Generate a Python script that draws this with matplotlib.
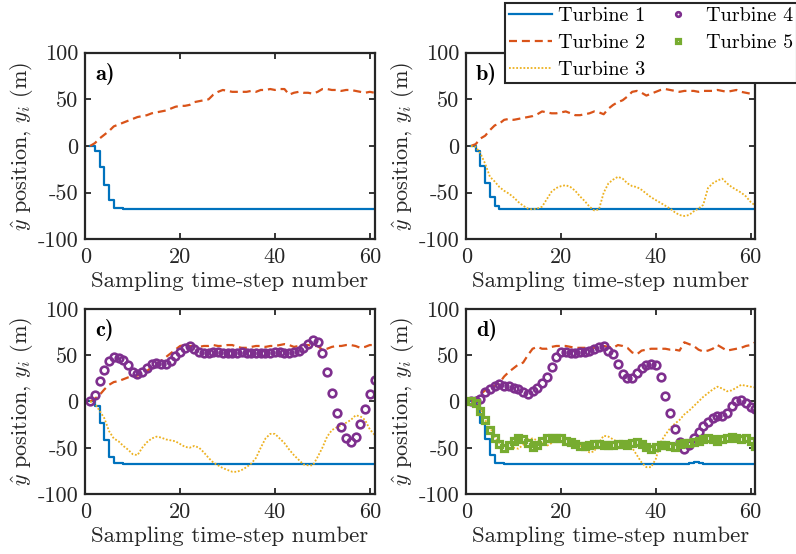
import numpy as np
import matplotlib.pyplot as plt

plt.rcParams['font.family'] = 'serif'
plt.rcParams['font.serif'] = ['cmr10']
plt.rcParams['mathtext.fontset'] = 'cm'
plt.rcParams['axes.unicode_minus'] = False
plt.rcParams['axes.formatter.use_mathtext'] = True

# sampling steps
steps = np.arange(1, 62)

x_ticks = [0, 20, 40, 60]
y_ticks = [-100, -50, 0, 50, 100]
x_tick_labels = ['0', '20', '40', '60']
y_tick_labels = ['-100', '-50', '0', '50', '100']

turbine_names = ['Turbine 1', 'Turbine 2', 'Turbine 3', 'Turbine 4', 'Turbine 5']
panel_names = ['a)', 'b)', 'c)', 'd)']

# case a) two turbines
a_t1 = [0, -5, -22, -42, -58, -66, -66, -68, -68, -68] + [-67.5] * 51
a_t2 = [0, 3, 8, 12, 16, 21, 23, 25, 27, 29, 31, 32, 33, 35, 36, 37, 38, 40, 42, 43,
        43, 44, 47, 48, 49, 50, 55, 58, 60, 59, 58, 58, 58, 58, 59, 58, 60, 60, 61, 60,
        61, 61, 55, 57, 58, 57, 57, 56, 58, 61, 61, 60, 60, 59, 60, 60, 59, 58, 57, 58, 57]

# case b) three turbines
b_t1 = [0, -5, -21, -40, -55, -64, -67, -67.5] + [-67.5] * 53
b_t2 = [0, 2, 8, 11, 17, 22, 24, 28, 29, 28, 29, 30, 31, 32, 34, 37, 36, 35, 35, 36,
        37, 35, 33, 33, 34, 35, 37, 36, 34, 40, 44, 47, 49, 53, 58, 59, 57, 54, 56, 58,
        60, 61, 60, 59, 58, 59, 59, 59, 58, 59, 59, 59, 60, 59, 58, 59, 60, 58, 57, 56, 54]
b_t3 = [0, -1, -8, -19, -33, -38, -44, -48, -51, -55, -60, -64, -67, -68, -67, -65, -57, -49, -45, -43,
        -42, -44, -48, -54, -59, -65, -69, -68, -50, -40, -36, -33, -35, -40, -43, -44, -47, -51, -55, -58,
        -61, -64, -67, -71, -74, -75, -74, -70, -67, -63, -45, -40, -37, -35, -40, -44, -47, -50, -54, -60, -64]

# case c) four turbines
c_t1 = [0, -5, -23, -42, -60, -66, -67, -68] + [-68] * 53
c_t2 = [0, 3, 7, 13, 18, 21, 22, 24, 26, 27, 28, 30, 33, 37, 41, 44, 48, 52, 56, 60,
        61, 60, 60, 59, 60, 60, 61, 60, 60, 61, 61, 59, 58, 58, 59, 60, 60, 59, 60, 60,
        61, 62, 61, 59, 60, 61, 61, 60, 60, 56, 57, 59, 60, 60, 61, 61, 60, 58, 59, 61, 61]
c_t3 = [0, -2, -10, -18, -32, -40, -43, -48, -52, -57, -58, -50, -44, -40, -38, -39, -41, -42, -43, -46,
        -49, -50, -48, -50, -55, -61, -66, -69, -72, -74, -76, -76, -74, -71, -67, -61, -50, -40, -35, -35,
        -40, -45, -52, -58, -63, -68, -69, -69, -60, -50, -38, -31, -28, -26, -23, -20, -15, -16, -20, -30, -36]
c_t4 = [0, 6.5, 22, 34, 44, 48, 47, 45, 39, 32, 30, 32, 36, 40, 42, 41, 41, 44, 49, 53,
        58, 60, 57, 54, 52, 52, 53, 53, 52, 52, 52, 52, 53, 52, 52, 52, 52, 52, 52, 53,
        53, 52, 52, 53, 55, 58, 62, 66, 64, 52, 32, 9, -12, -28, -40, -44, -38, -24, -8, 8, 23.5]

# case d) five turbines
d_t1 = ([0, -5, -23, -41, -58, -67, -67, -68] + [-68] * 37
        + [-68, -66, -65, -67] + [-68] * 12)
d_t2 = [0, 3, 8, 12, 15, 17, 20, 27, 32, 36, 40, 42, 50, 57, 59, 57, 57, 59, 60, 60,
        60, 59, 58, 58, 58, 58, 58, 59, 60, 59, 58, 61, 60, 58, 53, 51, 55, 56, 57, 57,
        57, 57, 56, 56, 55, 64, 62, 60, 56, 54, 55, 57, 61, 58, 55, 56, 57, 58, 60, 61, 64]
d_t3 = [0, -1, -8, -20, -28, -38, -45, -45, -44, -50, -51, -47, -41, -40, -42, -45, -48, -45, -41, -40,
        -40, -43, -45, -48, -52, -55, -54, -44, -37, -38, -41, -44, -45, -46, -50, -58, -66, -71, -71, -62,
        -44, -36, -29, -24, -20, -14, -10, -5, 0, 5, 9, 13, 16, 14, 11, 12, 15, 18, 17, 16, 15]
d_t4 = [0, 0.7, 3, 10, 14, 17, 19, 17, 17, 15, 13, 10, 8, 11, 15, 20, 26, 37, 48, 53,
        53, 52, 52, 53, 53, 55, 57, 59, 60, 55, 51, 41, 30, 25, 25, 31, 36, 39, 41, 39,
        26, 6, -12, -30, -44, -51, -47, -40, -33, -26, -22, -18, -16, -15.5, -12.6, -5, 0.7, 2, -2, -6.5, -8]
d_t5 = [0, -2, -10, -20, -31, -40, -46, -50, -47, -43, -40, -41, -45, -49, -47, -43, -40, -40, -40, -40,
        -43, -44, -46, -48, -48, -47, -46, -46, -47, -47, -47, -46, -46, -47, -45, -44, -46, -49, -51, -49,
        -47, -47, -48, -49, -46, -45, -45, -44, -43, -41, -40, -41, -43, -41, -39, -38, -40, -41, -40, -43, -48]

panels = [
    [a_t1, a_t2],
    [b_t1, b_t2, b_t3],
    [c_t1, c_t2, c_t3, c_t4],
    [d_t1, d_t2, d_t3, d_t4, d_t5],
]

colors = ['#0072BD', '#D95319', '#EDB120', '#7E2F8E', '#77AC30']
dark = '#262626'

fig = plt.figure(figsize=(7.96, 5.54), dpi=100)
fig.patch.set_facecolor('white')

boxes = [
    [0.1072, 0.5680, 0.3633, 0.3370],
    [0.5857, 0.5680, 0.3633, 0.3370],
    [0.1072, 0.1083, 0.3633, 0.3340],
    [0.5857, 0.1083, 0.3633, 0.3340],
]

handles = []
for k, (box, series) in enumerate(zip(boxes, panels)):
    ax = fig.add_axes(box)
    hs = []
    for i, y in enumerate(series):
        if i == 0:
            h, = ax.step(steps, y, where='post', color=colors[0], lw=1.6)
        elif i == 1:
            h, = ax.plot(steps, y, color=colors[1], lw=1.6, dashes=(3.6, 2.2))
        elif i == 2:
            h, = ax.plot(steps, y, color=colors[2], lw=1.3, dashes=(1, 1))
        elif i == 3:
            h, = ax.plot(steps, y, 'o', color=colors[3], mfc='none', ms=5.5, mew=1.9)
        else:
            h, = ax.plot(steps, y, 's', color=colors[4], mfc='none', ms=4.4, mew=2.3)
        hs.append(h)
    if len(hs) == 5:
        handles = hs

    ax.set_xlim(0, 61)
    ax.set_ylim(-100, 100)
    ax.set_xticks(x_ticks)
    ax.set_xticklabels(x_tick_labels)
    ax.set_yticks(y_ticks)
    ax.set_yticklabels(y_tick_labels)
    ax.tick_params(direction='in', length=4, width=1.3, top=True, right=True,
                   labelsize=16, colors=dark, pad=5)
    ax.tick_params(axis='x', pad=6)
    for sp in ax.spines.values():
        sp.set_linewidth(1.6)
        sp.set_color(dark)
    ax.set_xlabel('Sampling time-step number', fontsize=16.5, color=dark, labelpad=3)
    ax.set_ylabel(r'$\hat{y}$ position, $y_i$ (m)', fontsize=16, color=dark, labelpad=2)
    ax.text(0.034, 0.885, panel_names[k], transform=ax.transAxes, fontsize=16,
            fontname='cmb10', va='center', ha='left', color='black')

leg = fig.legend(handles, turbine_names, ncol=2, loc='upper left',
                 bbox_to_anchor=(505 / 796, 1 - 3 / 554), borderaxespad=0,
                 fontsize=14.5, frameon=True, fancybox=False, framealpha=1,
                 edgecolor=dark, handlelength=2.15, handletextpad=0.3,
                 columnspacing=0.55, labelspacing=0.45, borderpad=0.2,
                 markerscale=0.6, numpoints=1)
leg.get_frame().set_linewidth(1.5)

plt.savefig('out.png', dpi=100, facecolor='white')
